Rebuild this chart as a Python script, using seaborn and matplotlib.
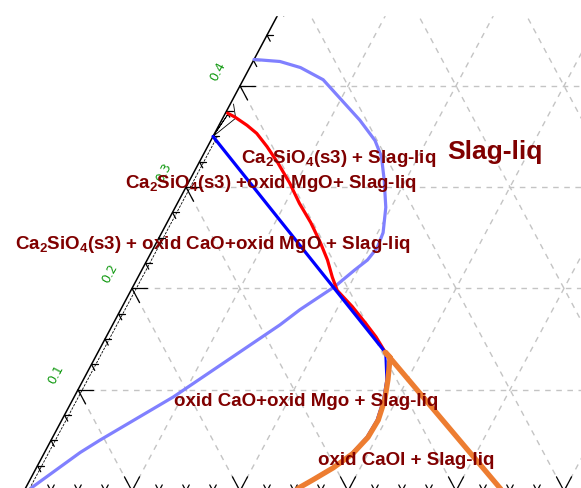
import numpy as np
import pandas as pd
import matplotlib
matplotlib.use("Agg")
import matplotlib.pyplot as plt
import seaborn as sns

# ============================================================================
# DATA (ternary compositions: b = bottom-axis fraction, c = apex fraction)
# ============================================================================

liq_b = [0.000, 0.025, 0.047, 0.074, 0.101, 0.128, 0.152, 0.166, 0.180, 0.195,
         0.205, 0.207, 0.204, 0.197, 0.187, 0.166, 0.155, 0.092, 0.045, 0.033,
         0.006, 0.004]
liq_c = [0.426, 0.424, 0.418, 0.406, 0.386, 0.366, 0.346, 0.330, 0.307, 0.280,
         0.255, 0.240, 0.228, 0.218, 0.202, 0.179, 0.164, 0.093, 0.050, 0.038,
         0.004, 0.000]

red_b = [0.002, 0.011, 0.026, 0.039, 0.055, 0.073, 0.094, 0.113, 0.133, 0.152,
         0.167, 0.180, 0.191, 0.213, 0.233, 0.250, 0.266, 0.443]
red_c = [0.373, 0.369, 0.361, 0.353, 0.340, 0.324, 0.304, 0.284, 0.265, 0.245,
         0.228, 0.211, 0.198, 0.182, 0.166, 0.152, 0.137, 0.000]

blue_b = [0.000, 0.266]
blue_c = [0.350, 0.137]

# blue boundary continuing just under the orange one
blue_low_b = [0.266, 0.2805, 0.2875, 0.2915, 0.2905, 0.2845, 0.2735, 0.2605, 0.2525, 0.2485]
blue_low_c = [0.137, 0.110, 0.090, 0.070, 0.053, 0.037, 0.023, 0.011, 0.004, 0.000]

# orange boundary: from the bottom edge up to the invariant point and back down
orange_b = [0.250, 0.254, 0.262, 0.275, 0.286, 0.292, 0.293, 0.289, 0.282, 0.273,
            0.266, 0.443]
orange_c = [0.000, 0.004, 0.011, 0.023, 0.037, 0.053, 0.070, 0.090, 0.110, 0.132,
            0.137, 0.000]

tie_b = [0.000, 0.003, 0.000, 0.012, 0.003]
tie_c = [0.350, 0.373, 0.350, 0.368, 0.382]

edge_labels = [0.1, 0.2, 0.3, 0.4]

region_labels = [
    "Ca$_2$SiO$_4$(s3) + Slag-liq",
    "Ca$_2$SiO$_4$(s3) +oxid MgO+ Slag-liq",
    "Ca$_2$SiO$_4$(s3) + oxid CaO+oxid MgO + Slag-liq",
    "oxid CaO+oxid Mgo + Slag-liq",
    "oxid CaOl + Slag-liq",
]
region_x = [0.2917, 0.2287, 0.1750, 0.2611, 0.3537]
region_y = [0.3287, 0.3031, 0.2438, 0.0888, 0.0306]

# ============================================================================
# STYLE
# ============================================================================

sns.set_style("white")
plt.rcParams["font.family"] = ["Liberation Sans", "DejaVu Sans"]
plt.rcParams["mathtext.fontset"] = "custom"
plt.rcParams["mathtext.rm"] = "Liberation Sans"
plt.rcParams["mathtext.bf"] = "Liberation Sans:bold"
plt.rcParams["mathtext.default"] = "bf"

TXT = "#800000"
GRID = "#c4c4c4"


def tern(b, c):
    b = np.asarray(b, dtype=float)
    c = np.asarray(c, dtype=float)
    return b + c / 2, c


fig = plt.figure(figsize=(5.81, 4.88), dpi=100)
ax = fig.add_axes([0, 0, 1, 1])
ax.set_xlim(-24 / 1080, 557 / 1080)
ax.set_ylim(3 / 1013, 491 / 1013)
ax.axis("off")

# ---- dashed triangular grid ----
for v in np.arange(0.1, 1.0, 0.1):
    if v < 0.5:
        x, y = tern([0, 1 - v], [v, v])
        ax.plot(x, y, color=GRID, lw=1, ls=(0, (4, 4)), zorder=1)
    x, y = tern([v, v], [0, 1 - v])
    ax.plot(x, y, color=GRID, lw=1, ls=(0, (4, 4)), zorder=1)
    x, y = tern([0, v], [v, 0])
    ax.plot(x, y, color=GRID, lw=1, ls=(0, (4, 4)), zorder=1)

# ---- axes edges + ticks ----
x, y = tern([0, 0], [0, 0.6])
ax.plot(x, y, color="black", lw=1.1, zorder=3)
x, y = tern([0.004, 0.004], [0, 0.35])
ax.plot(x, y, color="black", lw=0.6, ls=(0, (3, 1.5)), zorder=3)

for t in np.arange(0.025, 0.6, 0.025):
    L = 0.014 if abs(t * 10 - round(t * 10)) < 1e-6 else 0.006
    # left edge: along the two grid directions
    x, y = tern([0, L], [t, t])
    ax.plot(x, y, color="black", lw=0.9, zorder=3)
    x, y = tern([0, L], [t, t - L])
    ax.plot(x, y, color="black", lw=0.9, zorder=3)
    # bottom edge: V marks
    x, y = tern([t, t - L], [0, L])
    ax.plot(x, y, color="black", lw=0.9, zorder=3)
    x, y = tern([t, t], [0, L])
    ax.plot(x, y, color="black", lw=0.9, zorder=3)

for v in edge_labels:
    ax.text(v / 2 - 0.021, v + 0.0145, f"{v:.1f}", color="#139a13", fontsize=9,
            rotation=62, ha="center", va="center", family="DejaVu Sans", zorder=4)

# ---- phase boundaries ----
x, y = tern(tie_b, tie_c)
ax.plot(x, y, color="black", lw=0.6, zorder=3)

x, y = tern(blue_low_b, blue_low_c)
ax.plot(x, y, color="#0000ff", lw=1.5, zorder=2)

curves = [
    (liq_b, liq_c, "#8080ff", 2.3, 4),
    (red_b, red_c, "#ff0000", 2.3, 5),
    (blue_b, blue_c, "#0000ff", 2.3, 6),
    (orange_b, orange_c, "#ed7d31", 3.8, 8),
]
for b, c, col, lw, z in curves:
    x, y = tern(b, c)
    df = pd.DataFrame({"x": x, "y": y})
    sns.lineplot(data=df, x="x", y="y", sort=False, estimator=None, color=col,
                 lw=lw, ax=ax, zorder=z, solid_joinstyle="round", solid_capstyle="round")

# ---- labels ----
for lab, x0, y0 in zip(region_labels, region_x, region_y):
    ax.text(x0, y0, lab, color=TXT, fontsize=13.5, fontweight="bold",
            ha="center", va="center", zorder=9)
ax.text(0.4361, 0.3346, "Slag-liq", color=TXT, fontsize=19, fontweight="bold",
        ha="center", va="center", zorder=9)

# plot window stops a little below the top of the image
ax.axhspan(476 / 1013, 0.5, color="white", zorder=10)
ax.set_xlabel("")
ax.set_ylabel("")

fig.savefig("out.png", dpi=100)
